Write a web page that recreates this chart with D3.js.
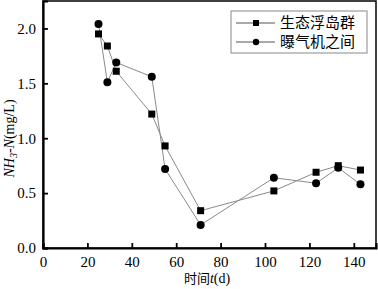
<!DOCTYPE html>
<html>
<head>
<meta charset="utf-8">
<script src="https://cdn.jsdelivr.net/npm/d3@7"></script>
<style>
body { margin: 0; background: #fff; }
svg text { font-family: "Liberation Serif", "Times New Roman", serif; }
svg text .cjk, svg text.cjk { font-family: "Noto Sans CJK SC", sans-serif; }
</style>
</head>
<body>
<svg id="chart" width="378" height="289"></svg>
<script>
const days = [25, 29, 33, 49, 55, 71, 104, 123, 133, 143];
const floatIsland = [1.95, 1.84, 1.61, 1.22, 0.93, 0.34, 0.52, 0.69, 0.75, 0.71];
const aeration = [2.04, 1.51, 1.69, 1.56, 0.72, 0.21, 0.64, 0.59, 0.73, 0.58];
const seriesNames = ["生态浮岛群", "曝气机之间"];
const xTicks = [0, 20, 40, 60, 80, 100, 120, 140];
const yTicks = [0.0, 0.5, 1.0, 1.5, 2.0];

const svg = d3.select("#chart"),
    margin = { top: 1, right: 2, bottom: 41, left: 43 },
    width = +svg.attr("width") - margin.left - margin.right,
    height = +svg.attr("height") - margin.top - margin.bottom,
    g = svg.append("g").attr("transform", `translate(${margin.left},${margin.top})`);

const x = d3.scaleLinear().domain([0, 150]).range([0, width]);
const y = d3.scaleLinear().domain([0, 2.25]).range([height, 0]);

// frame
g.append("rect")
    .attr("width", width).attr("height", height)
    .attr("fill", "none").attr("stroke", "#000").attr("stroke-width", 1.5);

const xAxis = g.append("g")
    .attr("transform", `translate(0,${height})`)
    .call(d3.axisBottom(x).tickValues(xTicks).tickSize(-5).tickPadding(8).tickFormat(d3.format("d")));
const yAxis = g.append("g")
    .call(d3.axisLeft(y).tickValues(yTicks).tickSize(-5).tickPadding(7).tickFormat(d3.format(".1f")));

[xAxis, yAxis].forEach(a => {
    a.attr("font-family", null);
    a.select(".domain").attr("stroke-width", 2.2);
    a.selectAll(".tick line").attr("stroke-width", 1.8);
    a.selectAll(".tick text")
        .style("font-family", "'Liberation Serif', serif")
        .attr("font-size", 15)
        .attr("fill", "#000");
});

const rows = days.map((d, i) => ({ d, a: floatIsland[i], b: aeration[i] }));

const lineA = d3.line().x(r => x(r.d)).y(r => y(r.a));
const lineB = d3.line().x(r => x(r.d)).y(r => y(r.b));

g.append("path").datum(rows).attr("d", lineA)
    .attr("fill", "none").attr("stroke", "#8a8a8a").attr("stroke-width", 1);
g.append("path").datum(rows).attr("d", lineB)
    .attr("fill", "none").attr("stroke", "#8a8a8a").attr("stroke-width", 1);

g.selectAll(".sq").data(rows).enter().append("rect")
    .attr("x", r => x(r.d) - 3.5).attr("y", r => y(r.a) - 3.5)
    .attr("width", 7).attr("height", 7).attr("fill", "#000");
g.selectAll(".ci").data(rows).enter().append("circle")
    .attr("cx", r => x(r.d)).attr("cy", r => y(r.b))
    .attr("r", 4).attr("fill", "#000");

// legend
const lg = svg.append("g").attr("transform", "translate(231,11)");
lg.append("rect").attr("width", 136).attr("height", 42)
    .attr("fill", "#fff").attr("stroke", "#888").attr("stroke-width", 1);
seriesNames.forEach((name, i) => {
    const yy = 12 + i * 19;
    lg.append("line").attr("x1", 5).attr("x2", 44).attr("y1", yy).attr("y2", yy)
        .attr("stroke", "#555").attr("stroke-width", 1);
    if (i === 0) {
        lg.append("rect").attr("x", 22).attr("y", yy - 3).attr("width", 6).attr("height", 6).attr("fill", "#000");
    } else {
        lg.append("circle").attr("cx", 25).attr("cy", yy).attr("r", 3.2).attr("fill", "#000");
    }
    lg.append("text").attr("class", "cjk").attr("x", 49).attr("y", yy).attr("dy", "0.36em")
        .attr("font-size", 15).attr("fill", "#000").text(name);
});

// axis labels
const xl = svg.append("text")
    .attr("x", 207).attr("y", 283)
    .attr("text-anchor", "middle").attr("font-size", 14).attr("fill", "#000");
xl.append("tspan").attr("class", "cjk").attr("font-size", 13).text("时间");
xl.append("tspan").attr("font-style", "italic").text("t");
xl.append("tspan").text("(d)");

const yl = svg.append("text")
    .attr("transform", `translate(14,${margin.top + height / 2 + 14}) rotate(-90)`)
    .attr("text-anchor", "middle").attr("font-size", 14).attr("fill", "#000");
yl.append("tspan").attr("font-style", "italic").text("NH");
yl.append("tspan").attr("font-style", "italic").attr("font-size", 10).attr("dy", 3).text("3");
yl.append("tspan").attr("font-style", "italic").attr("dy", -3).text("-N");
yl.append("tspan").text("(mg/L)");
</script>
</body>
</html>
